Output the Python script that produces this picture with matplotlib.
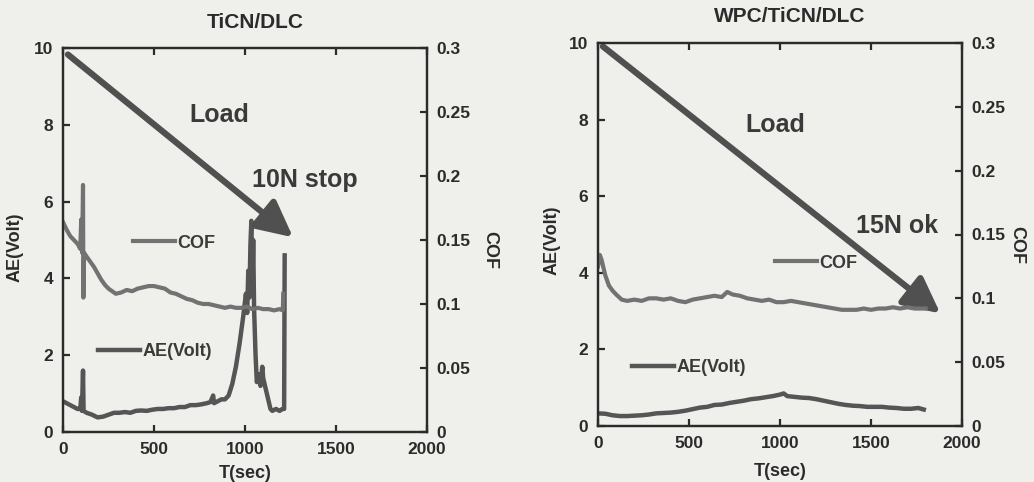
import matplotlib
matplotlib.use("Agg")
import matplotlib.pyplot as plt

plt.rcParams['font.family'] = ['Liberation Sans', 'DejaVu Sans']
plt.rcParams['font.weight'] = 'bold'

# --- TiCN/DLC (left panel) ---
t_cof_a = [0, 20, 40, 60, 80, 95, 100, 105, 110, 112, 116, 130, 150, 170, 190, 210, 230, 250,
           270, 290, 320, 350, 380, 410, 440, 470, 500, 530, 560, 590, 620, 650, 680, 710, 740,
           770, 800, 830, 860, 890, 920, 950, 980, 1010, 1040, 1070, 1100, 1130, 1160, 1190,
           1208, 1210]
cof_a = [0.164, 0.158, 0.153, 0.150, 0.147, 0.143, 0.166, 0.140, 0.193, 0.105, 0.140, 0.137,
         0.133, 0.129, 0.124, 0.119, 0.115, 0.112, 0.110, 0.108, 0.109, 0.111, 0.110, 0.112,
         0.113, 0.114, 0.114, 0.113, 0.112, 0.109, 0.108, 0.106, 0.104, 0.103, 0.101, 0.100,
         0.100, 0.099, 0.098, 0.097, 0.098, 0.097, 0.097, 0.098, 0.096, 0.097, 0.096, 0.096,
         0.095, 0.096, 0.095, 0.108]
t_ae_a = [0, 20, 40, 60, 80, 95, 100, 104, 110, 113, 130, 160, 190, 220, 250, 280, 310, 340,
          370, 400, 430, 460, 490, 520, 550, 580, 610, 640, 670, 700, 730, 760, 790, 810, 825,
          830, 850, 870, 890, 910, 930, 950, 970, 990, 1005, 1012, 1018, 1024, 1030, 1035,
          1040, 1045, 1050, 1058, 1065, 1075, 1085, 1095, 1100, 1110, 1120, 1130, 1140, 1150,
          1170, 1190, 1205, 1215, 1218]
ae_a = [0.8, 0.75, 0.7, 0.65, 0.6, 0.6, 0.9, 0.55, 1.6, 0.55, 0.5, 0.45, 0.38, 0.4, 0.45, 0.5,
        0.5, 0.52, 0.5, 0.55, 0.56, 0.55, 0.58, 0.6, 0.6, 0.62, 0.62, 0.65, 0.65, 0.7, 0.7,
        0.72, 0.75, 0.78, 0.95, 0.75, 0.8, 0.85, 0.85, 0.95, 1.25, 1.7, 2.3, 3.0, 3.6, 3.1,
        4.2, 3.5, 4.9, 5.5, 3.6, 5.0, 3.2, 2.0, 1.3, 1.5, 1.2, 1.7, 1.4, 1.2, 1.0, 0.8, 0.6,
        0.55, 0.6, 0.55, 0.6, 0.6, 4.6]

# --- WPC/TiCN/DLC (right panel) ---
t_cof_b = [0, 10, 20, 40, 60, 80, 100, 130, 160, 200, 240, 280, 320, 360, 400, 440, 480, 520,
           560, 600, 640, 680, 710, 740, 780, 820, 860, 900, 940, 980, 1020, 1060, 1100, 1140,
           1180, 1220, 1260, 1300, 1340, 1380, 1420, 1460, 1500, 1540, 1580, 1620, 1660, 1700,
           1740, 1780, 1800]
cof_b = [0.125, 0.134, 0.130, 0.118, 0.110, 0.106, 0.103, 0.099, 0.098, 0.099, 0.098, 0.100,
         0.100, 0.099, 0.100, 0.098, 0.097, 0.099, 0.100, 0.101, 0.102, 0.101, 0.105, 0.103,
         0.102, 0.100, 0.099, 0.098, 0.099, 0.097, 0.097, 0.098, 0.097, 0.096, 0.095, 0.094,
         0.093, 0.092, 0.091, 0.091, 0.091, 0.092, 0.091, 0.092, 0.092, 0.093, 0.092, 0.093,
         0.092, 0.092, 0.092]
t_ae_b = [0, 40, 80, 120, 160, 200, 240, 280, 320, 360, 400, 440, 480, 520, 560, 600, 640, 680,
          720, 760, 800, 840, 880, 920, 960, 1000, 1020, 1040, 1080, 1120, 1160, 1200, 1240,
          1280, 1320, 1360, 1400, 1440, 1480, 1520, 1560, 1600, 1640, 1680, 1720, 1760, 1790]
ae_b = [0.33, 0.32, 0.28, 0.26, 0.26, 0.27, 0.28, 0.30, 0.33, 0.34, 0.35, 0.37, 0.40, 0.44,
        0.48, 0.50, 0.55, 0.56, 0.60, 0.63, 0.66, 0.70, 0.72, 0.75, 0.78, 0.82, 0.85, 0.78,
        0.76, 0.74, 0.73, 0.70, 0.66, 0.62, 0.58, 0.55, 0.53, 0.52, 0.50, 0.50, 0.50, 0.48,
        0.47, 0.45, 0.45, 0.47, 0.43]

x_ticks = [0, 500, 1000, 1500, 2000]
ae_ticks = [0, 2, 4, 6, 8, 10]
cof_ticks = [0, 0.05, 0.1, 0.15, 0.2, 0.25, 0.3]
cof_labels = ["0", "0.05", "0.1", "0.15", "0.2", "0.25", "0.3"]

bg = "#efefec"
ink = "#2b2b2b"
cof_col = "#727272"
ae_col = "#555555"

fig = plt.figure(figsize=(10.34, 4.82), dpi=100, facecolor=bg)


def panel(rect, t_cof, cof, t_ae, ae, title, title_xy, arrow, notes, leg_cof, leg_ae,
          xlab_xy, ylab_xy, coflab_xy):
    ax = fig.add_axes(rect)
    ax.set_facecolor(bg)
    ax2 = ax.twinx()
    ax.plot(t_ae, ae, color=ae_col, lw=3.2, label="AE(Volt)")
    ax2.plot(t_cof, cof, color=cof_col, lw=3.0, label="COF")
    ax.set_xlim(0, 2000)
    ax.set_ylim(0, 10)
    ax2.set_ylim(0, 0.3)
    ax.set_xticks(x_ticks)
    ax.set_yticks(ae_ticks)
    ax2.set_yticks(cof_ticks)
    ax2.set_yticklabels(cof_labels)
    for a in (ax, ax2):
        for s in a.spines.values():
            s.set_linewidth(1.6)
            s.set_color(ink)
    ax.tick_params(axis='both', direction='in', length=5, width=1.6, labelsize=12.5,
                   colors=ink, top=True, pad=7)
    ax2.tick_params(axis='y', direction='in', length=5, width=1.6, labelsize=12.5,
                    colors=ink, pad=7)
    for lab in ax.get_xticklabels() + ax.get_yticklabels() + ax2.get_yticklabels():
        lab.set_fontweight('bold')

    ax.annotate("", xy=arrow[1], xytext=arrow[0],
                arrowprops=dict(arrowstyle='-|>,head_length=1.0,head_width=0.5', lw=4.5,
                                color="#505050", mutation_scale=22, shrinkA=0, shrinkB=0))
    for txt, xy in notes:
        ax.text(xy[0], xy[1], txt, fontsize=18, fontweight='bold', color="#3a3a3a",
                ha='center', va='center')

    l1 = ax2.legend(loc='center left', bbox_to_anchor=leg_cof, bbox_transform=fig.transFigure,
                    frameon=False, handlelength=2.3, handletextpad=0.15, borderpad=0,
                    borderaxespad=0, prop=dict(size=13, weight='bold'))
    l2 = ax.legend(loc='center left', bbox_to_anchor=leg_ae, bbox_transform=fig.transFigure,
                   frameon=False, handlelength=2.3, handletextpad=0.15, borderpad=0,
                   borderaxespad=0, prop=dict(size=13, weight='bold'))
    for lg in (l1, l2):
        for tx in lg.get_texts():
            tx.set_color("#3a3a3a")

    fig.text(title_xy[0], title_xy[1], title, fontsize=15, fontweight='bold', color=ink,
             ha='center', va='center')
    fig.text(xlab_xy[0], xlab_xy[1], "T(sec)", fontsize=13, fontweight='bold', color=ink,
             ha='center', va='center')
    fig.text(ylab_xy[0], ylab_xy[1], "AE(Volt)", fontsize=13, fontweight='bold', color=ink,
             ha='center', va='center', rotation=90)
    fig.text(coflab_xy[0], coflab_xy[1], "COF", fontsize=13, fontweight='bold', color=ink,
             ha='center', va='center', rotation=270)


W, H = 1034.0, 482.0

panel([63 / W, 1 - 432 / H, 364 / W, 384 / H], t_cof_a, cof_a, t_ae_a, ae_a,
      "TiCN/DLC", (255 / W, 1 - 22 / H),
      ((27, 9.83), (1264, 5.07)),
      [("Load", (861, 8.26)), ("10N stop", (1328, 6.55))],
      (133 / W, 1 - 243 / H), (98 / W, 1 - 352 / H),
      (245 / W, 1 - 473 / H), (15 / W, 1 - 247 / H), (490 / W, 1 - 250 / H))

panel([598 / W, 1 - 426 / H, 364 / W, 383 / H], t_cof_b, cof_b, t_ae_b, ae_b,
      "WPC/TiCN/DLC", (790 / W, 1 - 17 / H),
      ((27, 9.91), (1881, 2.94)),
      [("Load", (972, 7.87)), ("15N ok", (1642, 5.21))],
      (775 / W, 1 - 263 / H), (632 / W, 1 - 368 / H),
      (780 / W, 1 - 472 / H), (552 / W, 1 - 240 / H), (1017 / W, 1 - 245 / H))

fig.savefig("out.png", dpi=100, facecolor=bg)
